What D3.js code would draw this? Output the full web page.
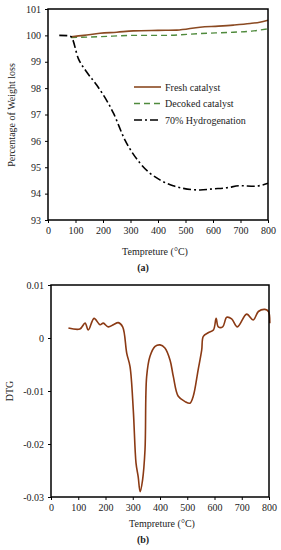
<!DOCTYPE html>
<html><head><meta charset="utf-8">
<script src="https://cdn.jsdelivr.net/npm/d3@7"></script>
<style>body{margin:0;background:#fff}svg{display:block}svg text{font-family:"Liberation Serif","Times New Roman",serif !important;fill:#222}</style>
</head><body><svg id="c" width="281" height="550"></svg>
<script>
// ---- Data (a) TGA ----
const freshT = [84, 130, 189, 250, 310, 400, 468, 553, 620, 674, 735, 770, 800];
const freshV = [99.95, 100.0, 100.08, 100.12, 100.17, 100.19, 100.2, 100.31, 100.35, 100.39, 100.45, 100.5, 100.57];
const decokedT = [84, 189, 310, 431, 553, 674, 740, 800];
const decokedV = [99.92, 99.95, 100.0, 100.0, 100.07, 100.12, 100.16, 100.25];
const hydroT = [41, 70, 84, 110, 140, 177, 238, 280, 335, 407, 455, 492, 553, 600, 650, 698, 750, 800];
const hydroV = [100.0, 99.99, 99.95, 99.13, 98.62, 98.12, 97.05, 96.03, 95.15, 94.52, 94.3, 94.2, 94.14, 94.18, 94.22, 94.3, 94.28, 94.39];
const seriesNames = ["Fresh catalyst", "Decoked catalyst", "70% Hydrogenation"];
const xTicks = [0, 100, 200, 300, 400, 500, 600, 700, 800];
const yTicksA = [93, 94, 95, 96, 97, 98, 99, 100, 101];
// ---- Data (b) DTG ----
const dtgT = [64, 106, 125, 137, 158, 180, 192, 210, 229, 247, 263, 278, 290, 302, 312, 320, 327, 336, 345, 351, 363, 382, 400, 418, 437, 449, 467, 492, 510, 522, 540, 553, 559, 577, 596, 606, 614, 630, 645, 663, 684, 718, 742, 761, 785, 798, 803];
const dtgV = [0.0019, 0.0017, 0.0028, 0.0015, 0.0037, 0.0025, 0.0028, 0.0021, 0.0025, 0.0029, 0.0021, -0.0029, -0.0054, -0.0136, -0.0236, -0.0262, -0.029, -0.0268, -0.0211, -0.0073, -0.0035, -0.0016, -0.0013, -0.0019, -0.0042, -0.0073, -0.011, -0.012, -0.0123, -0.011, -0.006, -0.0023, 0.0003, 0.001, 0.0015, 0.0037, 0.0021, 0.0021, 0.0039, 0.0036, 0.0021, 0.0045, 0.0034, 0.005, 0.0054, 0.005, 0.0028];
const yTicksB = [-0.03, -0.02, -0.01, 0, 0.01];

const svg = d3.select("#c");
const FS = 10;

function frame(x0, x1, y0, y1) {
  svg.append("rect").attr("x", x0).attr("y", y0).attr("width", x1 - x0).attr("height", y1 - y0)
    .attr("fill", "none").attr("stroke", "#000").attr("stroke-width", 1.5);
}
function axes(x, y, yTicks, yFmt, bottomY, leftX) {
  const gx = svg.append("g").attr("transform", `translate(0,${bottomY})`)
    .call(d3.axisBottom(x).tickValues(xTicks).tickSize(3).tickPadding(4));
  const gy = svg.append("g").attr("transform", `translate(${leftX},0)`)
    .call(d3.axisLeft(y).tickValues(yTicks).tickFormat(yFmt).tickSize(3).tickPadding(4));
  [gx, gy].forEach(g => {
    g.select(".domain").remove();
    g.selectAll("line").attr("stroke", "#000");
    g.selectAll("text").attr("font-size", FS).attr("font-family", "Liberation Serif").attr("fill", "#222");
  });
}

// ---- Chart (a) ----
const xa = d3.scaleLinear().domain([0, 800]).range([48, 268]);
const ya = d3.scaleLinear().domain([93, 101]).range([220, 9]);
axes(xa, ya, yTicksA, d3.format("d"), 220, 48);
const lineA = d3.line().x(d => xa(d[0])).y(d => ya(d[1])).curve(d3.curveMonotoneX);
svg.append("path").attr("d", lineA(decokedT.map((t, i) => [t, decokedV[i]])))
  .attr("fill", "none").attr("stroke", "#4f8a3c").attr("stroke-width", 1.4).attr("stroke-dasharray", "6,4");
svg.append("path").attr("d", lineA(freshT.map((t, i) => [t, freshV[i]])))
  .attr("fill", "none").attr("stroke", "#8b4a22").attr("stroke-width", 1.6);
svg.append("path").attr("d", lineA(hydroT.map((t, i) => [t, hydroV[i]])))
  .attr("fill", "none").attr("stroke", "#000").attr("stroke-width", 1.6).attr("stroke-dasharray", "8,3,2,3");
frame(48, 268, 9, 220);

// legend
const legStyles = [
  {stroke: "#8b4a22", dash: null, w: 1.6},
  {stroke: "#4f8a3c", dash: "6,4", w: 1.4},
  {stroke: "#000", dash: "8,3,2,3", w: 1.6}
];
seriesNames.forEach((n, i) => {
  const yy = 87 + i * 16.5;
  svg.append("line").attr("x1", 134).attr("x2", 161).attr("y1", yy).attr("y2", yy)
    .attr("stroke", legStyles[i].stroke).attr("stroke-width", legStyles[i].w)
    .attr("stroke-dasharray", legStyles[i].dash);
  svg.append("text").attr("x", 165).attr("y", yy + 3.5).attr("font-size", 10).text(n);
});
svg.append("text").attr("transform", "translate(15,115) rotate(-90)").attr("text-anchor", "middle")
  .attr("font-size", 10).text("Percentage of Weight  loss");
svg.append("text").attr("x", 155).attr("y", 255).attr("text-anchor", "middle").attr("font-size", 10).text("Tempreture (°C)");
svg.append("text").attr("x", 143).attr("y", 271).attr("text-anchor", "middle").attr("font-size", 10).attr("font-weight", "bold").text("(a)");

// ---- Chart (b) ----
const xb = d3.scaleLinear().domain([0, 800]).range([51, 269]);
const yb = d3.scaleLinear().domain([-0.03, 0.01]).range([497, 285]);
axes(xb, yb, yTicksB, d => d === 0 ? "0" : d.toFixed(2), 497, 51);
const lineB = d3.line().x(d => xb(d[0])).y(d => yb(d[1])).curve(d3.curveCatmullRom.alpha(0.5));
svg.append("path").attr("d", lineB(dtgT.map((t, i) => [t, dtgV[i]])))
  .attr("fill", "none").attr("stroke", "#8b3a14").attr("stroke-width", 1.6);
frame(51, 269, 285, 497);
svg.append("text").attr("transform", "translate(13,391) rotate(-90)").attr("text-anchor", "middle")
  .attr("font-size", 10).text("DTG");
svg.append("text").attr("x", 162).attr("y", 527).attr("text-anchor", "middle").attr("font-size", 10).text("Tempreture (°C)");
svg.append("text").attr("x", 143).attr("y", 543).attr("text-anchor", "middle").attr("font-size", 10).attr("font-weight", "bold").text("(b)");
</script></body></html>
